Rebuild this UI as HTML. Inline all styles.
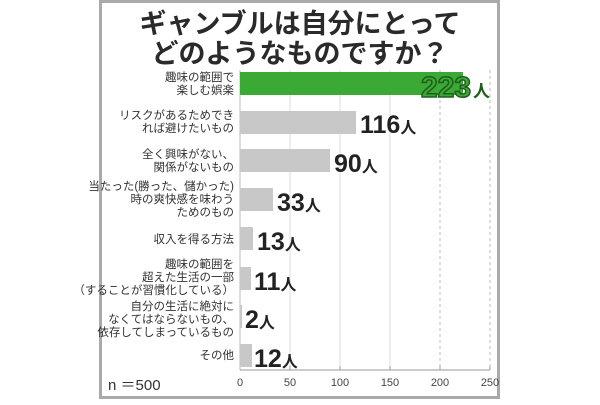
<!DOCTYPE html><html><head><meta charset="utf-8"><style>
body{margin:0;width:600px;height:400px;background:#fff;overflow:hidden;font-family:"Liberation Sans","Noto Sans CJK JP",sans-serif}
</style></head><body>
<svg width="600" height="400" xmlns="http://www.w3.org/2000/svg" font-family="Liberation Sans, Noto Sans CJK JP, sans-serif">
<rect x="100.5" y="1.5" width="398" height="396" fill="#fff" stroke="#aaa" stroke-width="3"/>
<text x="300" y="33" text-anchor="middle" font-size="27" font-weight="bold" fill="#2a2a2a">ギャンブルは自分にとって</text>
<text x="300" y="63" text-anchor="middle" font-size="27" font-weight="bold" fill="#2a2a2a">どのようなものですか？</text>
<g stroke="#ddd" stroke-width="1">
<line x1="290" y1="70" x2="290" y2="370"/><line x1="340" y1="70" x2="340" y2="370"/><line x1="390" y1="70" x2="390" y2="370"/>
</g>
<g stroke="#bbb" stroke-width="1" stroke-dasharray="3,3">
<line x1="440" y1="70" x2="440" y2="370"/><line x1="490" y1="70" x2="490" y2="370"/>
</g>
<line x1="240" y1="70" x2="240" y2="370" stroke="#bbb"/>
<line x1="240" y1="370" x2="490" y2="370" stroke="#999"/>
<g stroke="#999"><line x1="290" y1="366" x2="290" y2="370"/><line x1="340" y1="366" x2="340" y2="370"/><line x1="390" y1="366" x2="390" y2="370"/><line x1="440" y1="366" x2="440" y2="370"/><line x1="490" y1="366" x2="490" y2="370"/></g>
<g font-size="11" fill="#444" text-anchor="middle">
<text x="240" y="386">0</text><text x="290" y="386">50</text><text x="340" y="386">100</text><text x="390" y="386">150</text><text x="440" y="386">200</text><text x="490" y="386">250</text>
</g>
<text x="108" y="390" font-size="15" fill="#333">n ＝500</text>
<rect x="240" y="72" width="223" height="23" fill="#3aaa35"/>
<text x="421" y="97" font-size="29" font-weight="bold" fill="#3aaa35" stroke="#1f5e1c" stroke-width="1.5" textLength="50" lengthAdjust="spacingAndGlyphs">223</text>
<text x="473" y="97" font-size="17" font-weight="bold" fill="#1f5e1c">人</text>
<g fill="#c8c8c8">
<rect x="240" y="111" width="116" height="23"/>
<rect x="240" y="149" width="90" height="23"/>
<rect x="240" y="188" width="33" height="23"/>
<rect x="240" y="227" width="13" height="23"/>
<rect x="240" y="267" width="11" height="23"/>
<rect x="240" y="305" width="2" height="23"/>
<rect x="240" y="344" width="12" height="23"/>
</g>
<g font-size="25" font-weight="bold" fill="#222">
<text x="360" y="133">116<tspan font-size="16">人</tspan></text>
<text x="334" y="172">90<tspan font-size="16">人</tspan></text>
<text x="277" y="211">33<tspan font-size="16">人</tspan></text>
<text x="257" y="250">13<tspan font-size="16">人</tspan></text>
<text x="254" y="290">11<tspan font-size="16">人</tspan></text>
<text x="245" y="328">2<tspan font-size="16">人</tspan></text>
<text x="254" y="367">12<tspan font-size="16">人</tspan></text>
</g>
<g font-size="11.5" fill="#333" text-anchor="end">
<text x="234" y="81">趣味の範囲で</text><text x="234" y="94">楽しむ娯楽</text>
<text x="234" y="119">リスクがあるためでき</text><text x="234" y="132">れば避けたいもの</text>
<text x="234" y="158">全く興味がない、</text><text x="234" y="171">関係がないもの</text>
<text x="234" y="190">当たった(勝った、儲かった)</text><text x="234" y="203">時の爽快感を味わう</text><text x="234" y="216">ためのもの</text>
<text x="234" y="243">収入を得る方法</text>
<text x="234" y="268">趣味の範囲を</text><text x="234" y="281">超えた生活の一部</text><text x="234" y="294">（することが習慣化している）</text>
<text x="234" y="310">自分の生活に絶対に</text><text x="234" y="323">なくてはならないもの、</text><text x="234" y="336">依存してしまっているもの</text>
<text x="234" y="359">その他</text>
</g>
</svg>
</body></html>
